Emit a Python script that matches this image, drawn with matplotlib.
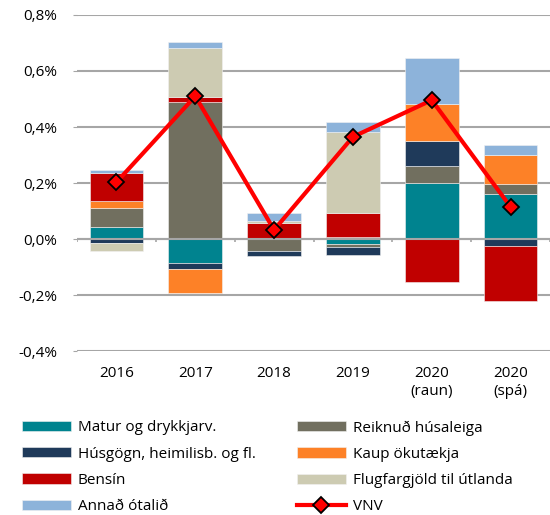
import numpy as np
import matplotlib
matplotlib.use('Agg')
import matplotlib.pyplot as plt
from matplotlib.ticker import FuncFormatter

plt.rcParams['font.family'] = ['Open Sans', 'DejaVu Sans']

# gögn, framlag til verðbólgu (prósentustig)
flokkar = ['2016', '2017', '2018', '2019', '2020\n(raun)', '2020\n(spá)']
matur = [0.044, -0.085, 0.000, -0.019, 0.201, 0.160]
husaleiga = [0.068, 0.488, -0.042, -0.009, 0.060, 0.036]
husgogn = [-0.013, -0.022, -0.019, -0.029, 0.090, -0.026]
okutaeki = [0.024, -0.087, 0.005, 0.008, 0.130, 0.104]
bensin = [0.101, 0.019, 0.052, 0.084, -0.154, -0.195]
flug = [-0.029, 0.175, 0.007, 0.291, 0.000, 0.000]
annad = [0.010, 0.021, 0.030, 0.036, 0.165, 0.036]
vnv = [0.203, 0.510, 0.033, 0.365, 0.496, 0.115]

nofn = ['Matur og drykkjarv.', 'Reiknuð húsaleiga', 'Húsgögn, heimilisb. og fl.',
        'Kaup ökutækja', 'Bensín', 'Flugfargjöld til útlanda', 'Annað ótalið']
litir = ['#00838F', '#716F5F', '#1F3A5A', '#FD8127', '#C00000', '#CDCBB2', '#8DB3DA']
radir = [matur, husaleiga, husgogn, okutaeki, bensin, flug, annad]

fs = 11
fig = plt.figure(figsize=(5.5, 5.15), dpi=100)
ax = fig.add_axes([0.14, 0.318, 0.86, 0.653])

x = np.arange(len(flokkar))
pos = np.zeros(len(flokkar))
neg = np.zeros(len(flokkar))
handles = []
for nafn, litur, rod in zip(nofn, litir, radir):
    v = np.array(rod)
    botn = np.where(v >= 0, pos, neg)
    b = ax.bar(x, v, 0.68, bottom=botn, color=litur, edgecolor='#F2F2F2',
               linewidth=0.4, zorder=2, label=nafn)
    handles.append(b)
    pos = pos + np.where(v >= 0, v, 0)
    neg = neg + np.where(v < 0, v, 0)

ax.axhline(0, color='#A6A6A6', lw=1.5, zorder=3)
# litlu merkin milli flokka á núlllínunni
ax.vlines(np.arange(len(flokkar) + 1) - 0.5, -0.011, 0, color='#A6A6A6', lw=1.2, zorder=3)

lina, = ax.plot(x, vnv, color='#FF0000', lw=3, marker='D', ms=8.5,
                mfc='#FF0000', mec='black', mew=1.3, zorder=5, label='VNV')

ax.set_ylim(-0.4, 0.8)
ax.set_xlim(-0.5, len(flokkar) - 0.5)
ax.set_yticks(np.arange(-0.4, 0.81, 0.2))
ax.yaxis.set_major_formatter(FuncFormatter(lambda v, p: f'{v:.1f}%'.replace('.', ',').replace('-0,0', '0,0')))
ax.grid(axis='y', color='#A6A6A6', lw=1.5, zorder=0)
ax.set_axisbelow(True)
for s in ax.spines.values():
    s.set_visible(False)
ax.set_xticks(x)
ax.set_xticklabels(flokkar, linespacing=1.3)
ax.tick_params(axis='x', length=0, pad=10.5, labelsize=fs)
ax.tick_params(axis='y', length=3, color='#A6A6A6', pad=11, labelsize=fs)

leg_kw = dict(loc='upper left', frameon=False, fontsize=fs, handlelength=3.2,
              handleheight=0.65, handletextpad=0.45, labelspacing=0.74,
              borderpad=0, borderaxespad=0, numpoints=1)
vinstri = [handles[0], handles[2], handles[4], handles[6]]
haegri = [handles[1], handles[3], handles[5], lina]
fig.legend(vinstri, [h.get_label() for h in vinstri], bbox_to_anchor=(0.04, 0.184), **leg_kw)
fig.legend(haegri, [h.get_label() for h in haegri], bbox_to_anchor=(0.54, 0.184), **leg_kw)

fig.savefig('out.png', dpi=100)
